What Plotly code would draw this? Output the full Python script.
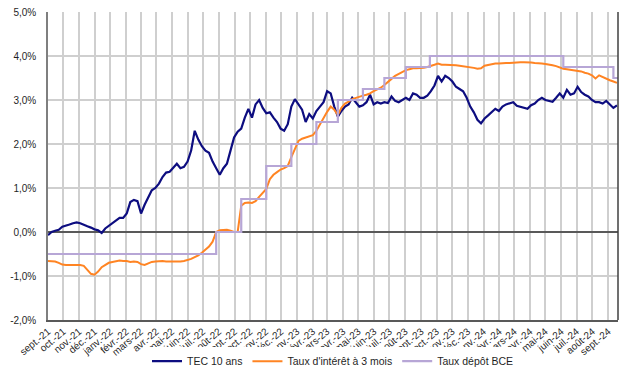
import pandas as pd
import plotly.graph_objects as go

# ---------------- data (values in %) ----------------
week_start = "2021-09-01"  # weekly observations (Wednesdays)

tec_10_ans = [
    -0.07, 0.00, 0.03, 0.05, 0.12,            # sept-21
    0.14, 0.17, 0.20, 0.22,                   # oct-21
    0.20, 0.16, 0.13, 0.10,                   # nov-21
    0.06, 0.04, -0.02, 0.08, 0.14,            # déc-21
    0.18, 0.25, 0.32, 0.32,                   # janv-22
    0.42, 0.68, 0.73, 0.70,                   # févr-22
    0.42, 0.62, 0.80, 0.95, 1.00,             # mars-22
    1.10, 1.25, 1.35, 1.37,                   # avr-22
    1.45, 1.55, 1.45, 1.48,                   # mai-22
    1.60, 1.85, 2.30, 2.10, 1.95,             # juin-22
    1.85, 1.80, 1.60, 1.45,                   # juil-22
    1.30, 1.45, 1.55, 1.85, 2.15,             # août-22
    2.28, 2.35, 2.60, 2.80,                   # sept-22
    2.60, 2.90, 3.00, 2.82,                   # oct-22
    2.70, 2.72, 2.60, 2.50, 2.35,             # nov-22
    2.30, 2.45, 2.85, 3.02,                   # déc-22
    2.90, 2.78, 2.50, 2.68,                   # janv-23
    2.58, 2.75, 2.85, 2.95,                   # févr-23
    3.20, 3.15, 2.85, 2.62, 2.75,             # mars-23
    2.85, 2.90, 3.05, 2.95,                   # avr-23
    2.85, 2.88, 2.95, 3.12, 2.90,             # mai-23
    2.95, 2.92, 2.95, 2.93,                   # juin-23
    3.08, 2.98, 2.95, 3.00,                   # juil-23
    3.05, 3.00, 3.15, 3.12, 3.05,             # août-23
    3.05, 3.10, 3.20, 3.33,                   # sept-23
    3.55, 3.42, 3.55, 3.50,                   # oct-23
    3.42, 3.30, 3.25, 3.20, 3.05,             # nov-23
    2.85, 2.72, 2.55, 2.47,                   # déc-23
    2.58, 2.65, 2.72, 2.80, 2.75,             # janv-24
    2.85, 2.90, 2.92, 2.95,                   # févr-24
    2.87, 2.85, 2.82, 2.80,                   # mars-24
    2.88, 2.92, 3.00, 3.05,                   # avr-24
    3.00, 2.98, 2.96, 3.05, 3.15,             # mai-24
    3.05, 3.23, 3.12, 3.15,                   # juin-24
    3.30, 3.18, 3.12, 3.08, 3.00,             # juil-24
    2.95, 2.95, 2.92, 2.98,                   # août-24
    2.90, 2.82, 2.88,                         # sept-24
]

taux_3_mois = [
    -0.66, -0.66, -0.67, -0.70, -0.74,        # sept-21
    -0.75, -0.75, -0.74, -0.74,               # oct-21
    -0.75, -0.77, -0.85, -0.95,               # nov-21
    -0.97, -0.90, -0.80, -0.74, -0.70,        # déc-21
    -0.68, -0.66, -0.65, -0.66,               # janv-22
    -0.66, -0.68, -0.67, -0.68,               # févr-22
    -0.73, -0.75, -0.71, -0.68, -0.67,        # mars-22
    -0.66, -0.66, -0.67, -0.67,               # avr-22
    -0.67, -0.68, -0.67, -0.66,               # mai-22
    -0.64, -0.61, -0.57, -0.53, -0.47,        # juin-22
    -0.41, -0.33, -0.22, 0.00,                # juil-22
    0.04, 0.05, 0.05, 0.03, 0.00,             # août-22
    0.00, 0.60, 0.66, 0.67,                   # sept-22
    0.66, 0.70, 0.80, 0.90,                   # oct-22
    0.98, 1.20, 1.30, 1.36, 1.42,             # nov-22
    1.45, 1.50, 1.70, 1.88,                   # déc-22
    2.07, 2.12, 2.15, 2.17,                   # janv-23
    2.20, 2.30, 2.45, 2.60,                   # févr-23
    2.73, 2.85, 2.78, 2.66, 2.82,             # mars-23
    2.92, 2.96, 3.02, 3.05,                   # avr-23
    3.08, 3.10, 3.12, 3.15, 3.20,             # mai-23
    3.24, 3.28, 3.34, 3.42,                   # juin-23
    3.48, 3.55, 3.60, 3.65,                   # juil-23
    3.68, 3.70, 3.72, 3.72, 3.72,             # août-23
    3.73, 3.75, 3.77, 3.80,                   # sept-23
    3.83, 3.80, 3.80, 3.80,                   # oct-23
    3.80, 3.79, 3.78, 3.77, 3.76,             # nov-23
    3.75, 3.73, 3.71, 3.72,                   # déc-23
    3.78, 3.80, 3.82, 3.83, 3.83,             # janv-24
    3.84, 3.84, 3.84, 3.85,                   # févr-24
    3.85, 3.86, 3.86, 3.86,                   # mars-24
    3.85, 3.84, 3.84, 3.83,                   # avr-24
    3.82, 3.81, 3.79, 3.77, 3.74,             # mai-24
    3.71, 3.70, 3.69, 3.68,                   # juin-24
    3.67, 3.65, 3.62, 3.60, 3.56,             # juil-24
    3.49, 3.56, 3.52, 3.48,                   # août-24
    3.45, 3.42, 3.39,                         # sept-24
]

bce_dates = ["2021-09-01", "2022-07-27", "2022-09-14", "2022-11-02", "2022-12-21",
             "2023-02-08", "2023-03-22", "2023-05-10", "2023-06-21", "2023-08-02",
             "2023-09-18", "2024-06-05", "2024-09-11", "2024-09-20"]
bce_values = [-0.50, 0.00, 0.75, 1.50, 2.00, 2.50, 3.00, 3.25, 3.50, 3.75, 4.00, 3.75, 3.50, 3.50]

month_labels = ["sept.-21", "oct.-21", "nov.-21", "déc.-21",
                "janv.-22", "févr.-22", "mars-22", "avr.-22", "mai-22", "juin-22",
                "juil.-22", "août-22", "sept.-22", "oct.-22", "nov.-22", "déc.-22",
                "janv.-23", "févr.-23", "mars-23", "avr.-23", "mai-23", "juin-23",
                "juil.-23", "août-23", "sept.-23", "oct.-23", "nov.-23", "déc.-23",
                "janv.-24", "févr.-24", "mars-24", "avr.-24", "mai-24", "juin-24",
                "juil.-24", "août-24", "sept.-24"]

y_ticks = [-2, -1, 0, 1, 2, 3, 4, 5]
y_tick_labels = ["-2,0%", "-1,0%", "0,0%", "1,0%", "2,0%", "3,0%", "4,0%", "5,0%"]

# ---------------- figure ----------------
dates = pd.date_range(week_start, periods=len(tec_10_ans), freq="7D")
month_ticks = pd.date_range("2021-09-01", periods=len(month_labels), freq="MS")

FONT = "Liberation Sans, Arial, sans-serif"
TEXT = "#1f1f1f"

fig = go.Figure()
fig.add_trace(go.Scatter(x=dates, y=tec_10_ans, mode="lines", name="TEC 10 ans",
                         line=dict(color="#0d0d80", width=2.2)))
fig.add_trace(go.Scatter(x=dates, y=taux_3_mois, mode="lines",
                         name="Taux d'intérêt à 3 mois",
                         line=dict(color="#ff8423", width=2)))
fig.add_trace(go.Scatter(x=pd.to_datetime(bce_dates), y=bce_values, mode="lines",
                         name="Taux dépôt BCE",
                         line=dict(color="#b7a6d6", width=2.2, shape="hv")))

# the page body adds an 8px offset, so the figure is sized 626x371
fig.update_layout(
    width=626, height=371,
    margin=dict(l=40, r=16, t=4, b=59, autoexpand=False),
    paper_bgcolor="white", plot_bgcolor="white",
    font=dict(family=FONT, size=10, color=TEXT),
    showlegend=True,
    legend=dict(orientation="h", x=0.5, xanchor="center",
                yref="container", y=0.048, yanchor="middle",
                font=dict(size=10.5, color=TEXT),
                itemwidth=30, tracegroupgap=0),
    xaxis=dict(
        type="date", automargin=False, ticklabeloverflow="allow",
        range=["2021-09-01", "2024-09-20"],
        tickvals=month_ticks, ticktext=month_labels,
        tickangle=-40, tickfont=dict(size=10, color=TEXT),
        showgrid=True, gridcolor="#cfcfcf", gridwidth=1.5,
        showline=True, linecolor="#595959", linewidth=1.5,
        ticks="", zeroline=False,
    ),
    yaxis=dict(
        automargin=False, ticklabeloverflow="allow",
        range=[-2, 5],
        tickvals=y_ticks, ticktext=y_tick_labels,
        tickfont=dict(size=10, color=TEXT),
        showgrid=True, gridcolor="#cfcfcf", gridwidth=1.5,
        showline=True, linecolor="#7f7f7f", linewidth=1.5,
        zeroline=True, zerolinecolor="#595959", zerolinewidth=1.5,
        ticks="", ticklabelstandoff=8,
    ),
)

fig.add_shape(type="line", xref="paper", yref="paper", x0=1, x1=1, y0=0, y1=1,
              line=dict(color="#404040", width=1.5))

fig.write_html("out.html", config={"displayModeBar": False})
